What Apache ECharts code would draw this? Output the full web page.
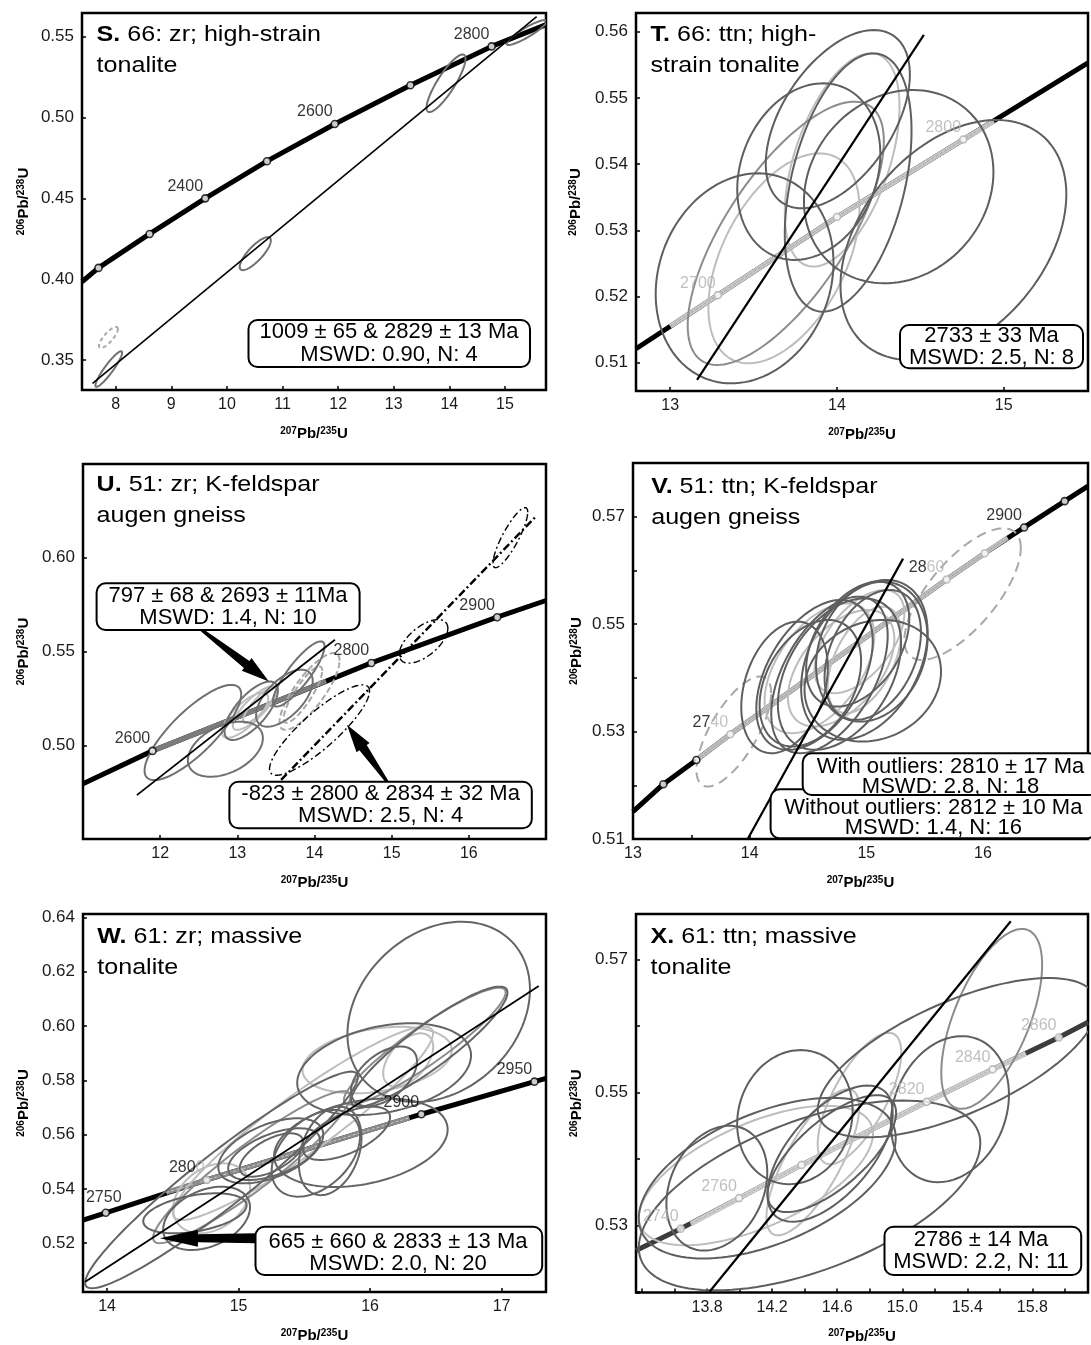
<!DOCTYPE html>
<html>
<head>
<meta charset="utf-8">
<script src="https://cdn.jsdelivr.net/npm/echarts@6/dist/echarts.min.js"></script>
<style>
  html, body { margin: 0; padding: 0; background: #fff; }
  #chart { width: 1091px; height: 1345px; }
</style>
</head>
<body>
<div id="chart"></div>
<script>
// ---------- Panel S: 66 zircon ----------
const sCurve = [[7.394, 0.3984], [7.69, 0.407], [8.61, 0.428], [9.61, 0.450], [10.72, 0.473], [11.94, 0.496], [13.30, 0.520], [14.76, 0.544], [15.74, 0.5575]];
const sMarks = [[7.69, 0.407], [8.61, 0.428], [9.61, 0.450], [10.72, 0.473], [11.94, 0.496], [13.30, 0.520], [14.76, 0.544]];
const sLabels = [[9.61, 0.450, '2400'], [11.94, 0.496, '2600'], [14.76, 0.544, '2800']];
const sDiscordia = [[7.584, 0.3356], [15.57, 0.5624]];
// ellipses: [x, y, half-width, half-height, correlation]
const sEllipses = [[7.875, 0.3444, 0.24, 0.011, 0.92], [10.51, 0.4158, 0.28, 0.0102, 0.8], [13.94, 0.5212, 0.35, 0.0178, 0.85], [15.39, 0.5526, 0.36, 0.0077, 0.9]];
const sEllipsesExcluded = [[7.87, 0.364, 0.17, 0.0065, 0.8]];

// ---------- Panel T: 66 titanite ----------
const tCurve = [[12.795, 0.5121], [13.286, 0.5202], [14.0, 0.532], [14.757, 0.5437], [15.505, 0.5553]];
const tBand = [[13.0, 0.5155], [13.286, 0.5202], [14.0, 0.532], [14.757, 0.5437], [14.94, 0.5465]];
const tGrayMarks = [[13.286, 0.5202], [14.0, 0.532], [14.757, 0.5437]];
const tLabels = [[13.286, 0.5202, '2700'], [14.757, 0.5437, '2800']];
const tDiscordia = [[13.161, 0.5074], [14.521, 0.5595]];
const tEllDark = [[13.446, 0.52274, 0.533, 0.01586, 0.15], [14.005, 0.54678, 0.432, 0.01347, 0.5], [13.831, 0.53886, 0.429, 0.01334, 0.2], [14.37, 0.53659, 0.568, 0.0146, 0.15], [14.698, 0.52853, 0.677, 0.01813, 0.38], [14.067, 0.53721, 0.38, 0.01951, 0.4]];
const tEllMid = [[13.693, 0.52954, 0.588, 0.01989, 0.7]];
const tEllLight = [[13.682, 0.52576, 0.453, 0.01586, 0.47], [14.031, 0.54062, 0.344, 0.01611, 0.5]];

// ---------- Panel U: 51 zircon ----------
const uCurve = [[11.0, 0.4795], [11.9, 0.497], [13.3, 0.5199], [14.737, 0.5439], [16.367, 0.5683], [17.0, 0.5772]];
const uBand = [[11.9, 0.497], [13.3, 0.5199], [14.15, 0.5343]];
const uMarks = [[11.9, 0.497], [14.737, 0.5439], [16.367, 0.5683]];
const uLabels = [[11.9, 0.497, '2600'], [14.737, 0.5439, '2800'], [16.367, 0.5683, '2900']];
const uDiscordiaA = [[11.698, 0.4734], [14.265, 0.5563]];
const uDiscordiaB = [[13.567, 0.4815], [16.876, 0.6223]];
const uArrows = [[12.531, 0.5617, 13.409, 0.534], [14.94, 0.4806, 14.42, 0.5109]];
const uEllDark = [[12.424, 0.5068, 0.626, 0.0254, 0.8], [12.845, 0.4979, 0.486, 0.0147, 0.4], [13.795, 0.538, 0.335, 0.0174, 0.85], [13.18, 0.5184, 0.346, 0.0156, 0.7], [13.61, 0.5251, 0.367, 0.0152, 0.6]];
const uEllLight = [[13.223, 0.5198, 0.281, 0.0116, 0.8], [13.29, 0.5216, 0.216, 0.0098, 0.85], [13.1, 0.516, 0.3, 0.012, 0.75]];
const uEllDashed = [[13.936, 0.5287, 0.389, 0.0205, 0.8], [13.85, 0.527, 0.25, 0.015, 0.85]];
const uEllDashDot = [[14.065, 0.5081, 0.648, 0.0241, 0.86], [15.413, 0.5554, 0.315, 0.0116, 0.6], [16.538, 0.6107, 0.225, 0.016, 0.85]];

// ---------- Panel V: 51 titanite ----------
const vCurve = [[13.0, 0.5151], [13.26, 0.5202], [13.543, 0.5247], [13.834, 0.5295], [15.688, 0.5583], [16.015, 0.5632], [16.352, 0.568], [16.70, 0.5729], [16.9, 0.5757]];
const vBand = [[13.543, 0.5247], [13.834, 0.5295], [15.688, 0.5583], [16.015, 0.5632], [16.21, 0.5661]];
const vMarks = [[13.26, 0.5202], [13.543, 0.5247], [16.352, 0.568], [16.70, 0.5729]];
const vGrayMarks = [[13.834, 0.5295], [15.688, 0.5583], [16.015, 0.5632]];
const vLabels = [[13.834, 0.5295, '2740'], [15.688, 0.5583, '2860'], [16.352, 0.568, '2900']];
const vDiscordia = [[13.983, 0.51], [15.315, 0.5622]];
const vEllDark = [[14.299, 0.53822, 0.371, 0.01225, 0.3], [14.556, 0.54055, 0.499, 0.01395, 0.45], [14.684, 0.54055, 0.499, 0.01457, 0.5], [14.983, 0.54334, 0.542, 0.01488, 0.35], [14.926, 0.54628, 0.442, 0.01163, 0.4], [15.047, 0.54488, 0.478, 0.01302, 0.2], [15.055, 0.53947, 0.585, 0.01132, 0.15], [14.77, 0.5407, 0.528, 0.0141, 0.4], [15.055, 0.54427, 0.413, 0.01209, 0.35], [14.52, 0.539, 0.435, 0.01178, 0.35]];
const vEllLight = [[14.598, 0.54179, 0.47, 0.01209, 0.5], [14.784, 0.54179, 0.456, 0.01085, 0.5], [14.941, 0.54675, 0.385, 0.0096, 0.55], [14.983, 0.54334, 0.314, 0.0099, 0.5]];
const vEllOutliers = [[15.825, 0.55559, 0.499, 0.01225, 0.7], [13.864, 0.53, 0.32, 0.01024, 0.7]];

// ---------- Panel W: 61 zircon ----------
const wCurve = [[13.817, 0.5285], [13.99, 0.5312], [14.758, 0.5433], [16.39, 0.5675], [17.25, 0.5795], [17.338, 0.5807]];
const wBand = [[14.45, 0.5387], [14.758, 0.5433], [16.3, 0.5662]];
const wMarks = [[13.99, 0.5312], [16.39, 0.5675], [17.25, 0.5795]];
const wGrayMarks = [[14.758, 0.5433]];
const wLabels = [[13.99, 0.5312, '2750'], [14.758, 0.5433, '2800'], [16.39, 0.5675, '2900'], [17.25, 0.5795, '2950']];
const wDiscordia = [[13.834, 0.5058], [17.283, 0.6147]];
const wArrows = [[15.13, 0.5218, 14.402, 0.5218]];
const wEllDark = [[14.87, 0.5433, 1.037, 0.0399, 0.95], [16.522, 0.6052, 0.694, 0.0332, 0.25], [16.45, 0.5924, 0.595, 0.0221, 0.9], [16.107, 0.5841, 0.661, 0.0169, 0.3], [16.106, 0.58145, 0.251, 0.011, 0.5], [15.93, 0.557, 0.66, 0.0163, 0.3], [15.697, 0.554, 0.238, 0.0163, 0.3], [15.245, 0.55402, 0.399, 0.01197, 0.5], [15.27, 0.55279, 0.349, 0.00952, 0.55], [15.25, 0.55249, 0.241, 0.00798, 0.6], [15.588, 0.5531, 0.336, 0.01596, 0.4], [15.822, 0.56047, 0.33, 0.00982, 0.6], [14.668, 0.531, 0.393, 0.00737, 0.4], [14.757, 0.52915, 0.33, 0.01166, 0.35]];
const wEllMid = [[16.416, 0.5926, 0.615, 0.0215, 0.92], [15.1, 0.548, 0.75, 0.028, 0.93]];
const wEllLight = [[16.054, 0.58745, 0.568, 0.01225, 0.3], [14.795, 0.53653, 0.292, 0.01289, 0.3], [15.49, 0.56415, 0.989, 0.0356, 0.93], [16.29, 0.5875, 0.19, 0.0098, 0.5]];

// ---------- Panel X: 61 titanite ----------
const xCurve = [[13.363, 0.5262], [13.638, 0.5295], [13.997, 0.5341], [14.381, 0.5391], [15.15, 0.5486], [15.556, 0.5535], [15.962, 0.5583], [16.142, 0.5606]];
const xBand = [[13.70, 0.5302], [13.997, 0.5341], [14.381, 0.5391], [15.15, 0.5486], [15.556, 0.5535], [15.76, 0.5559]];
const xGrayMarks = [[13.638, 0.5295], [13.997, 0.5341], [14.381, 0.5391], [15.15, 0.5486], [15.556, 0.5535], [15.962, 0.5583]];
const xLabels = [[13.638, 0.5295, '2740'], [13.997, 0.5341, '2760'], [15.15, 0.5486, '2820'], [15.556, 0.5535, '2840'], [15.962, 0.5583, '2860']];
const xDiscordia = [[13.815, 0.52], [15.667, 0.5758]];
const xTickLabels = ['13.8', '14.2', '14.6', '15.0', '15.4', '15.8'];
const xEllDark = [[15.341, 0.55525, 0.86, 0.012, 0.65], [14.17, 0.5371, 0.79, 0.0121, 0.5], [14.43, 0.5345, 1.05, 0.0143, 0.55], [13.86, 0.5356, 0.31, 0.0094, 0.25], [14.34, 0.5463, 0.355, 0.0101, 0.1], [15.293, 0.5475, 0.363, 0.011, 0.2], [14.567, 0.5408, 0.395, 0.0088, 0.7], [14.556, 0.5408, 0.385, 0.01025, 0.6]];
const xEllMid = [[15.55, 0.5611, 0.31, 0.01355, 0.6]];
const xEllLight = [[14.737, 0.5491, 0.257, 0.0099, 0.7], [14.1, 0.5375, 0.72, 0.0105, 0.6], [14.45, 0.5395, 0.285, 0.011, 0.75]];

// ---------- drawing helpers ----------
const FONT = '"Liberation Sans", Arial, Helvetica, sans-serif';
const DARK = '#5e5e5e', MID = '#8c8c8c', LIGHT = '#bdbdbd';

function ellipseSeries(idx, data, color, width, dash) {
  return {
    type: 'custom', xAxisIndex: idx, yAxisIndex: idx, clip: true, silent: true, z: 3,
    data: data,
    renderItem: function (params, api) {
      const cx = api.value(0), cy = api.value(1), sx = api.value(2), sy = api.value(3), r = api.value(4);
      const q = Math.sqrt(1 - r * r);
      const pts = [];
      for (let k = 0; k < 120; k++) {
        const t = k / 120 * Math.PI * 2;
        pts.push(api.coord([cx + sx * Math.cos(t), cy + sy * (r * Math.cos(t) + q * Math.sin(t))]));
      }
      return { type: 'polygon', shape: { points: pts },
        style: { fill: 'none', stroke: color, lineWidth: width, lineDash: dash || null } };
    }
  };
}

function lineSeries(idx, data, color, width, dash, z) {
  return {
    type: 'line', xAxisIndex: idx, yAxisIndex: idx, data: data, symbol: 'none', silent: true,
    clip: true, z: z || 2, lineStyle: { color: color, width: width, type: dash || 'solid', cap: 'butt' }
  };
}

function markSeries(idx, data, stroke) {
  return {
    type: 'scatter', xAxisIndex: idx, yAxisIndex: idx, data: data, symbol: 'circle', symbolSize: 7,
    silent: true, z: 6, itemStyle: { color: '#fff', borderColor: stroke, borderWidth: 1.6 }
  };
}

function labelSeries(idx, data, color, split, offsets) {
  return {
    type: 'scatter', xAxisIndex: idx, yAxisIndex: idx, symbolSize: 0, silent: true, z: 7,
    data: data.map(function (d) {
      const off = (offsets && offsets[d[2]]) || [-20, -12];
      return { value: d, label: { offset: off } };
    }),
    label: {
      show: true, position: 'inside', fontFamily: FONT, fontSize: 16, color: color,
      formatter: function (p) {
        const txt = p.value[2];
        const n = split && split[txt];
        if (n) return '{k|' + txt.slice(0, n) + '}{g|' + txt.slice(n) + '}';
        return txt;
      },
      rich: { k: { color: '#000', fontSize: 16, fontFamily: FONT }, g: { color: '#b5b5b5', fontSize: 16, fontFamily: FONT } }
    }
  };
}

function arrowSeries(idx, data, tailW, shaftW, headW, headL) {
  return {
    type: 'custom', xAxisIndex: idx, yAxisIndex: idx, z: 8, silent: true, data: data,
    renderItem: function (params, api) {
      const a = api.coord([api.value(0), api.value(1)]);
      const b = api.coord([api.value(2), api.value(3)]);
      const dx = b[0] - a[0], dy = b[1] - a[1], L = Math.hypot(dx, dy);
      const ux = dx / L, uy = dy / L, nx = -uy, ny = ux;
      const hb = [b[0] - ux * headL, b[1] - uy * headL];
      const pts = [
        [a[0] + nx * tailW / 2, a[1] + ny * tailW / 2],
        [hb[0] + nx * shaftW / 2, hb[1] + ny * shaftW / 2],
        [hb[0] + nx * headW / 2, hb[1] + ny * headW / 2],
        b,
        [hb[0] - nx * headW / 2, hb[1] - ny * headW / 2],
        [hb[0] - nx * shaftW / 2, hb[1] - ny * shaftW / 2],
        [a[0] - nx * tailW / 2, a[1] - ny * tailW / 2]
      ];
      return { type: 'polygon', shape: { points: pts }, style: { fill: '#000' } };
    }
  };
}

function near(v, step) { const r = v / step; return Math.abs(r - Math.round(r)) < 1e-6; }

const AXIS_NAME_X = '{s|207}{b|Pb/}{s|235}{b|U}';
const AXIS_NAME_Y = '{s|206}{b|Pb/}{s|238}{b|U}';
const nameStyle = {
  fontFamily: FONT, color: '#000',
  rich: {
    s: { fontSize: 10, fontWeight: 'bold', fontFamily: FONT, verticalAlign: 'top', lineHeight: 16 },
    b: { fontSize: 15, fontWeight: 'bold', fontFamily: FONT, lineHeight: 16 }
  }
};

const X_LABEL = { fontFamily: FONT, fontSize: 16, color: '#1a1a1a', margin: 7 };
const Y_LABEL = { fontFamily: FONT, fontSize: 17, color: '#1a1a1a', margin: 8 };

function xAxisOf(idx, cfg) {
  return Object.assign({
    type: 'value', gridIndex: idx, name: AXIS_NAME_X, nameLocation: 'middle', nameGap: 36,
    nameTextStyle: nameStyle, axisLine: { show: false }, splitLine: { show: false },
    axisTick: { show: true, inside: true, length: 4, lineStyle: { color: '#000', width: 1.5 } },
    axisLabel: Object.assign({ formatter: cfg.fmt }, X_LABEL, cfg.label || {})
  }, cfg.opts);
}

function yAxisOf(idx, cfg) {
  return Object.assign({
    type: 'value', gridIndex: idx, name: AXIS_NAME_Y, nameLocation: 'middle', nameRotate: 90,
    nameGap: cfg.gap, nameTextStyle: nameStyle, axisLine: { show: false }, splitLine: { show: false },
    axisTick: { show: true, inside: true, length: 4, lineStyle: { color: '#000', width: 1.5 } },
    axisLabel: Object.assign({ formatter: cfg.fmt }, Y_LABEL, cfg.label || {})
  }, cfg.opts);
}

const fmtInt = function (v) { return near(v, 1) ? String(Math.round(v)) : ''; };
const fmt2 = function (step) { return function (v) { return near(v, step) ? v.toFixed(2) : ''; }; };
const fmtOdd = function (v) { const r = Math.round(v * 100); return (near(v, 0.01) && r % 2 === 1) ? v.toFixed(2) : ''; };
const fmtX = function (v) { const s = v.toFixed(1); return (near(v, 0.1) && xTickLabels.indexOf(s) >= 0) ? s : ''; };
const hideEnds = { showMinLabel: false, showMaxLabel: false };

const grids = [
  { left: 82, top: 13, width: 464, height: 377 },
  { left: 636, top: 13, width: 453, height: 378 },
  { left: 83, top: 464, width: 463, height: 375 },
  { left: 633, top: 463, width: 456, height: 376 },
  { left: 83, top: 914, width: 463, height: 378 },
  { left: 636, top: 914, width: 453, height: 380 }
].map(function (g) {
  return Object.assign({ show: true, borderColor: '#000', borderWidth: 2.5, backgroundColor: 'transparent' }, g);
});

const xAxes = [
  xAxisOf(0, { fmt: fmtInt, opts: { min: 7.394, max: 15.738, splitNumber: 8 } }),
  xAxisOf(1, { fmt: fmtInt, opts: { min: 12.795, max: 15.505, splitNumber: 3 } }),
  xAxisOf(2, { fmt: fmtInt, label: hideEnds, opts: { min: 11, max: 17, interval: 1 } }),
  xAxisOf(3, { fmt: fmtInt, opts: { min: 13, max: 16.9, interval: 0.5 } }),
  xAxisOf(4, { fmt: fmtInt, opts: { min: 13.817, max: 17.338, splitNumber: 3 } }),
  xAxisOf(5, { fmt: fmtX, opts: { min: 13.363, max: 16.142, splitNumber: 14 } })
];

const yAxes = [
  yAxisOf(0, { gap: 50, fmt: fmt2(0.05), opts: { min: 0.33146, max: 0.56466, splitNumber: 5 } }),
  yAxisOf(1, { gap: 52, fmt: fmt2(0.01), opts: { min: 0.50572, max: 0.56282, splitNumber: 5 } }),
  yAxisOf(2, { gap: 51, fmt: fmt2(0.05), label: hideEnds, opts: { min: 0.45, max: 0.65, interval: 0.05 } }),
  yAxisOf(3, { gap: 48, fmt: fmtOdd, opts: { min: 0.51, max: 0.58, interval: 0.01 } }),
  yAxisOf(4, { gap: 51, fmt: fmt2(0.02), opts: { min: 0.50202, max: 0.64125, splitNumber: 6 } }),
  yAxisOf(5, { gap: 51, fmt: fmtOdd, opts: { min: 0.51988, max: 0.5769, splitNumber: 5 } })
];

const series = [].concat(
  // S
  lineSeries(0, sCurve, '#000', 5),
  ellipseSeries(0, sEllipses, '#707070', 2),
  ellipseSeries(0, sEllipsesExcluded, '#aaaaaa', 2, [4, 3]),
  lineSeries(0, sDiscordia, '#000', 1.6, 'solid', 4),
  markSeries(0, sMarks, '#000'),
  labelSeries(0, sLabels, '#000'),
  // T
  lineSeries(1, tCurve, '#000', 5),
  lineSeries(1, tBand, '#c6c6c6', 5),
  lineSeries(1, tBand, '#a0a0a0', 0.8, [3, 2]),
  ellipseSeries(1, tEllLight, LIGHT, 2),
  ellipseSeries(1, tEllMid, MID, 2),
  ellipseSeries(1, tEllDark, DARK, 2),
  lineSeries(1, tDiscordia, '#000', 2.2, 'solid', 4),
  markSeries(1, tGrayMarks, '#b0b0b0'),
  labelSeries(1, tLabels, '#b0b0b0'),
  // U
  lineSeries(2, uCurve, '#000', 5),
  lineSeries(2, uBand, '#7c7c7c', 5),
  ellipseSeries(2, uEllLight, LIGHT, 2),
  ellipseSeries(2, uEllDashed, '#a8a8a8', 2, [6, 3]),
  ellipseSeries(2, uEllDark, '#707070', 2),
  ellipseSeries(2, uEllDashDot, '#000', 1.4, [7, 3, 2, 3]),
  lineSeries(2, uDiscordiaA, '#000', 1.8, 'solid', 4),
  lineSeries(2, uDiscordiaB, '#000', 2.4, [8, 3, 2, 3], 4),
  markSeries(2, uMarks, '#000'),
  labelSeries(2, uLabels, '#000'),
  arrowSeries(2, uArrows, 3, 9, 16, 28),
  // V
  lineSeries(3, vCurve, '#000', 5),
  lineSeries(3, vBand, '#bdbdbd', 5),
  lineSeries(3, vBand, '#9a9a9a', 0.8, [3, 2]),
  ellipseSeries(3, vEllOutliers, '#a8a8a8', 2, [10, 6]),
  ellipseSeries(3, vEllLight, LIGHT, 2),
  ellipseSeries(3, vEllDark, DARK, 2),
  lineSeries(3, vDiscordia, '#000', 2.2, 'solid', 4),
  markSeries(3, vMarks, '#000'),
  markSeries(3, vGrayMarks, '#b0b0b0'),
  labelSeries(3, vLabels, '#000', { '2740': 2, '2860': 2 }),
  // W
  lineSeries(4, wCurve, '#000', 5),
  lineSeries(4, wBand, '#8a8a8a', 5),
  lineSeries(4, wBand, '#c8c8c8', 1, [3, 2]),
  ellipseSeries(4, wEllLight, LIGHT, 2),
  ellipseSeries(4, wEllMid, MID, 2),
  ellipseSeries(4, wEllDark, '#646464', 2),
  lineSeries(4, wDiscordia, '#000', 1.8, 'solid', 4),
  markSeries(4, wMarks, '#000'),
  markSeries(4, wGrayMarks, '#a0a0a0'),
  labelSeries(4, wLabels, '#000', { '2800': 3 }, { '2750': [-2, -15] }),
  arrowSeries(4, wArrows, 10, 8, 17, 38),
  // X
  lineSeries(5, xCurve, '#3c3c3c', 5),
  lineSeries(5, xBand, '#cdcdcd', 5),
  lineSeries(5, xBand, '#a8a8a8', 0.8, [3, 2]),
  ellipseSeries(5, xEllLight, LIGHT, 2),
  ellipseSeries(5, xEllMid, MID, 2),
  ellipseSeries(5, xEllDark, DARK, 2),
  lineSeries(5, xDiscordia, '#000', 2.2, 'solid', 4),
  markSeries(5, xGrayMarks, '#b0b0b0'),
  labelSeries(5, xLabels, '#b0b0b0')
);

// panel headings
function heading(x, y, letter, rest) {
  return {
    type: 'text', x: x, y: y, z: 20, scaleX: 1.14, scaleY: 1,
    style: {
      text: '{b|' + letter + '}' + rest, fontFamily: FONT, fontSize: 22, lineHeight: 31,
      fill: '#000', align: 'left', verticalAlign: 'top',
      rich: { b: { fontWeight: 'bold', fontSize: 22, fontFamily: FONT, lineHeight: 31 } }
    }
  };
}

// result boxes
function resultBox(x, y, w, h, tx, ty, text, lh) {
  return {
    type: 'group', z: 30,
    children: [
      { type: 'rect', z: 30, shape: { x: x, y: y, width: w, height: h, r: 9 },
        style: { fill: '#fff', stroke: '#000', lineWidth: 2 } },
      { type: 'text', z: 31, x: tx, y: ty,
        style: { text: text, fontFamily: FONT, fontSize: 22, lineHeight: lh || 23, fill: '#000',
                 align: 'center', verticalAlign: 'middle' } }
    ]
  };
}

const graphics = [
  heading(96.6, 19, 'S.', ' 66: zr; high-strain\ntonalite'),
  heading(650.5, 19.4, 'T.', ' 66: ttn; high-\nstrain tonalite'),
  heading(96.6, 469.4, 'U.', ' 51: zr; K-feldspar\naugen gneiss'),
  heading(651.2, 471, 'V.', ' 51: ttn; K-feldspar\naugen gneiss'),
  heading(97.3, 921, 'W.', ' 61: zr; massive\ntonalite'),
  heading(650.5, 921, 'X.', ' 61: ttn; massive\ntonalite'),
  resultBox(248.5, 320, 281.5, 47, 389, 343.5, '1009 ± 65 & 2829 ± 13 Ma\nMSWD: 0.90, N: 4'),
  resultBox(900, 325, 183, 43.3, 991.5, 346.7, '2733 ± 33 Ma\nMSWD: 2.5, N: 8', 22),
  resultBox(96.6, 583.3, 263, 46.7, 228, 606.7, '797 ± 68 & 2693 ± 11Ma\nMSWD: 1.4, N: 10', 22),
  resultBox(229.4, 781.7, 302.4, 46.6, 380.6, 805, '-823 ± 2800 & 2834 ± 32 Ma\nMSWD: 2.5, N: 4', 22),
  resultBox(770.6, 789.3, 325.5, 49, 933.3, 818.3, 'Without outliers: 2812 ± 10 Ma\nMSWD: 1.4, N: 16', 20),
  resultBox(802.7, 753.3, 295, 41.7, 950.5, 776.7, 'With outliers: 2810 ± 17 Ma\nMSWD: 2.8, N: 18', 20),
  resultBox(255.5, 1226.7, 286.7, 48.3, 398, 1252.5, '665 ± 660 & 2833 ± 13 Ma\nMSWD: 2.0, N: 20', 22),
  resultBox(884.5, 1226.7, 196.7, 48.3, 981, 1250.8, '2786 ± 14 Ma\nMSWD: 2.2, N: 11', 22)
];

const chart = echarts.init(document.getElementById('chart'), null, { renderer: 'canvas' });
chart.setOption({
  animation: false,
  backgroundColor: '#fff',
  grid: grids,
  xAxis: xAxes,
  yAxis: yAxes,
  series: series,
  graphic: graphics
});
</script>
</body>
</html>
